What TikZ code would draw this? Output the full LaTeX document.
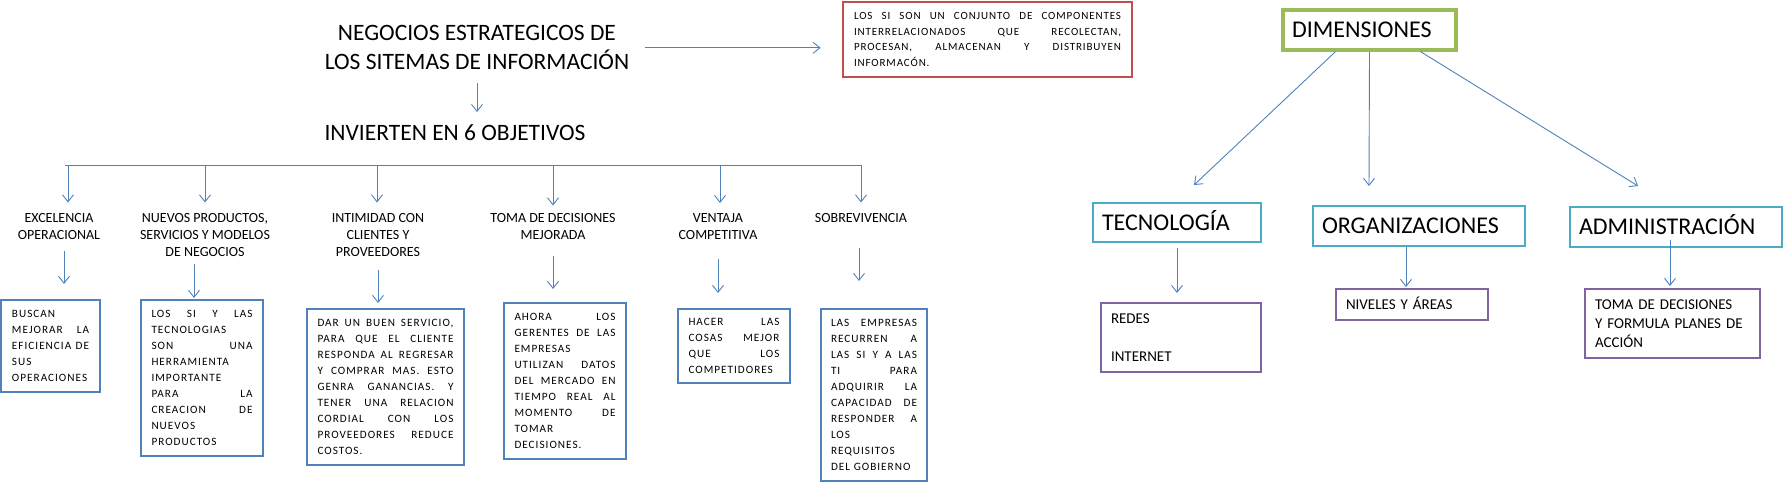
\documentclass[tikz,border=0pt]{standalone}
\usepackage{fontspec}
\setmainfont{Carlito}
\newfontfamily\lsfont[LetterSpace=8]{Carlito}
\newfontfamily\lsbfont[LetterSpace=9]{Carlito}
\usetikzlibrary{arrows.meta}
\definecolor{cblue}{HTML}{4F81BD}
\definecolor{cred}{HTML}{C0504D}
\definecolor{cgreen}{HTML}{9BBB59}
\definecolor{cteal}{HTML}{4BACC6}
\definecolor{cpurple}{HTML}{8064A2}
\newcommand\Jl[1]{\hbox to\linewidth{\spaceskip=.22em plus 1fill minus .1em\relax #1}\par}
\newcommand\Lf[1]{\hbox to\linewidth{#1\hfil}\par}
\tikzset{
  arr/.style={draw=cblue, line width=0.9pt, -{Straight Barb[length=7pt,width=11pt]}},
  cline/.style={draw=cblue, line width=0.9pt},
  bluebox/.style={draw=cblue, line width=2.6pt, inner sep=0pt,
    font=\lsbfont\fontsize{11.2}{16}\selectfont},
  redbox/.style={draw=cred, line width=2.6pt, inner sep=0pt,
    font=\lsfont\fontsize{11}{15.67}\selectfont},
  bigbox/.style={line width=2.8pt, inner xsep=9pt, inner ysep=0pt, align=left,
    font=\fontsize{24}{29}\selectfont, text height=15.5pt, text depth=0pt},
  subbox/.style={draw=cpurple, line width=2.6pt, inner xsep=10pt, inner ysep=0pt,
    font=\fontsize{15}{19}\selectfont},
  lbl/.style={anchor=north, inner sep=0pt, align=center,
    font=\fontsize{14}{17}\selectfont},
}
\begin{document}
\begin{tikzpicture}[x=1pt,y=-1pt]
\useasboundingbox (0,0) rectangle (1783,482);

% title and main
\node[anchor=north, inner sep=0pt, align=center, font=\fontsize{23.5}{29}\selectfont]
  (title) at (477,25.4) {NEGOCIOS ESTRATEGICOS DE\\LOS SITEMAS DE INFORMACIÓN};
\node[anchor=north, inner sep=0pt, font=\fontsize{23.5}{29}\selectfont]
  (inv) at (455,124.6) {INVIERTEN EN 6 OBJETIVOS};

\node[redbox, minimum width=289pt, minimum height=75pt, text width=267pt] (red) at (987.5,39.5) {%
\Jl{LOS SI SON UN CONJUNTO DE COMPONENTES}
\Jl{INTERRELACIONADOS QUE RECOLECTAN,}
\Jl{PROCESAN, ALMACENAN Y DISTRIBUYEN}
\Lf{INFORMACÓN.}};

\draw[arr, shorten <=13pt, shorten >=12.5pt] (title.south) -- (title.south |- inv.north);
\draw[arr, shorten <=16pt, shorten >=21pt] (title.east) -- (title.east -| red.west);

% six objectives
\node[lbl] (exc) at (59,213.5) {EXCELENCIA\\OPERACIONAL};
\node[lbl] (nue) at (205,213.5) {NUEVOS PRODUCTOS,\\SERVICIOS Y MODELOS\\DE NEGOCIOS};
\node[lbl] (int) at (378,213.5) {INTIMIDAD CON\\CLIENTES Y\\PROVEEDORES};
\node[lbl] (tom) at (553,213.5) {TOMA DE DECISIONES\\MEJORADA};
\node[lbl] (ven) at (718,213.5) {VENTAJA\\COMPETITIVA};
\node[lbl] (sob) at (861,213.5) {SOBREVIVENCIA};

\coordinate (barL) at (65,165);
\coordinate (barR) at (861,165);
\draw[cline] (barL) -- (barR);
\coordinate (d1) at (68,165);
\coordinate (d2) at (205,165);
\coordinate (d3) at (377,165);
\coordinate (d4) at (553,165);
\coordinate (d5) at (720,165);
\coordinate (d6) at (861,165);
\draw[arr, shorten >=11pt] (d1) -- (d1 |- exc.north);
\draw[arr, shorten >=11pt] (d2) -- (d2 |- nue.north);
\draw[arr, shorten >=11pt] (d3) -- (d3 |- int.north);
\draw[arr, shorten >=8pt] (d4) -- (d4 |- tom.north);
\draw[arr, shorten >=10.5pt] (d5) -- (d5 |- ven.north);
\draw[arr, shorten >=11pt] (d6) -- (d6 |- sob.north);

% blue boxes
\node[bluebox, minimum width=99pt, minimum height=92pt, text width=77pt] (busc) at (50.5,346) {%
\Lf{BUSCAN}
\Jl{MEJORAR LA}
\Jl{EFICIENCIA DE}
\Lf{SUS}
\Lf{OPERACIONES}};

\node[bluebox, minimum width=122pt, minimum height=156pt, text width=101pt] (lossi) at (202,378) {%
\Jl{LOS SI Y LAS}
\Lf{TECNOLOGIAS}
\Jl{SON UNA}
\Lf{HERRAMIENTA}
\Lf{IMPORTANTE}
\Jl{PARA LA}
\Jl{CREACION DE}
\Lf{NUEVOS}
\Lf{PRODUCTOS}};

\node[bluebox, minimum width=157pt, minimum height=156pt, text width=136pt] (dar) at (385.5,387) {%
\Jl{DAR UN BUEN SERVICIO,}
\Jl{PARA QUE EL CLIENTE}
\Jl{RESPONDA AL REGRESAR}
\Jl{Y COMPRAR MAS. ESTO}
\Jl{GENRA GANANCIAS. Y}
\Jl{TENER UNA RELACION}
\Jl{CORDIAL CON LOS}
\Jl{PROVEEDORES REDUCE}
\Lf{COSTOS.}};

\node[bluebox, minimum width=122pt, minimum height=156pt, text width=101pt] (ahora) at (565,381) {%
\Jl{AHORA LOS}
\Jl{GERENTES DE LAS}
\Lf{EMPRESAS}
\Jl{UTILIZAN DATOS}
\Jl{DEL MERCADO EN}
\Jl{TIEMPO REAL AL}
\Jl{MOMENTO DE}
\Lf{TOMAR}
\Lf{DECISIONES.}};

\node[bluebox, minimum width=112pt, minimum height=74pt, text width=91pt] (hacer) at (734,346) {%
\Jl{HACER LAS}
\Jl{COSAS MEJOR}
\Jl{QUE LOS}
\Lf{COMPETIDORES}};

\node[bluebox, minimum width=106pt, minimum height=172pt, text width=86pt] (empr) at (874,395) {%
\Jl{LAS EMPRESAS}
\Jl{RECURREN A}
\Jl{LAS SI Y A LAS}
\Jl{TI PARA}
\Jl{ADQUIRIR LA}
\Jl{CAPACIDAD DE}
\Jl{RESPONDER A}
\Lf{LOS}
\Lf{REQUISITOS}
\Lf{DEL GOBIERNO}};

\draw[arr, shorten <=10.5pt, shorten >=14.7pt] ([xshift=5pt]exc.south) -- ([xshift=5pt]exc.south |- busc.north);
\draw[arr, shorten <=6.5pt, shorten >=0.7pt] ([xshift=-11pt]nue.south) -- ([xshift=-11pt]nue.south |- lossi.north);
\draw[arr, shorten <=12.5pt, shorten >=4.7pt] (int.south) -- (int.south |- dar.north);
\draw[arr, shorten <=15.5pt, shorten >=12.7pt] (tom.south) -- (tom.south |- ahora.north);
\draw[arr, shorten <=19.5pt, shorten >=14.7pt] (ven.south) -- (ven.south |- hacer.north);
\draw[arr, shorten <=24.5pt, shorten >=26.7pt] ([xshift=-2pt]sob.south) -- ([xshift=-2pt]sob.south |- empr.north);

% right side
\node[bigbox, draw=cgreen, line width=3.2pt, minimum width=173pt, minimum height=40pt, text width=155pt] (dim) at (1369.5,30) {DIMENSIONES};
\node[bigbox, draw=cteal, minimum width=168pt, minimum height=39pt, text width=150pt] (tec) at (1177,222.5) {TECNOLOGÍA};
\node[bigbox, draw=cteal, minimum width=212pt, minimum height=40pt, text width=194pt] (org) at (1419,226) {ORGANIZACIONES};
\node[bigbox, draw=cteal, minimum width=212pt, minimum height=40pt, text width=194pt] (adm) at (1676,227) {ADMINISTRACIÓN};

\node[subbox, minimum width=160pt, minimum height=69pt, text width=140pt] (redes) at (1181,337.5) {%
\Lf{REDES}
\Lf{}
\Lf{INTERNET}};
\node[subbox, minimum width=152pt, minimum height=31pt, text width=132pt, text height=9.7pt, text depth=0pt, align=left] (niv) at (1412,304.5) {NIVELES Y ÁREAS};
\node[subbox, minimum width=175pt, minimum height=69pt, text width=155pt] (toma) at (1672.5,323.5) {%
\Lf{TOMA DE DECISIONES}
\Lf{Y FORMULA PLANES DE}
\Lf{ACCIÓN}};

\coordinate (tipL) at (1194,185);
\coordinate (tipM) at (1369,186);
\coordinate (tipR) at (1638,186);
\draw[arr] ([xshift=-34pt]dim.south) -- (tipL);
\draw[arr] (dim.south) -- (tipM);
\draw[arr] ([xshift=51pt]dim.south) -- (tipR);

\draw[arr, shorten <=4.7pt, shorten >=8.7pt] (tec.south) -- (tec.south |- redes.north);
\draw[arr, shorten >=0.7pt] ([xshift=-13pt]org.south) -- ([xshift=-13pt]org.south |- niv.north);
\draw[arr, shorten >=1.7pt] ([xshift=-6pt,yshift=8pt]adm.south) -- ([xshift=-6pt]adm.south |- toma.north);
\end{tikzpicture}
\end{document}
